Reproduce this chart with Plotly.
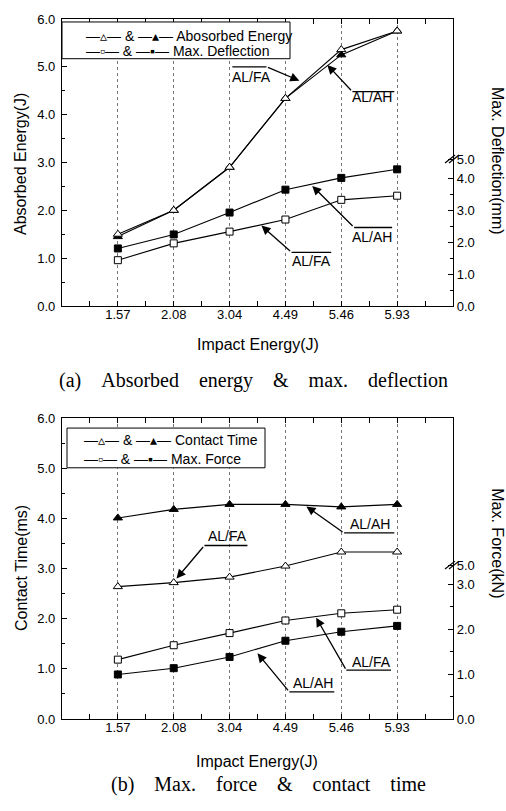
import plotly.graph_objects as go

# ---------------- data ----------------
impact = ["1.57", "2.08", "3.04", "4.49", "5.46", "5.93"]
abs_fa = [1.50, 2.00, 2.90, 4.34, 5.36, 5.75]
abs_ah = [1.45, 2.00, 2.90, 4.34, 5.25, 5.75]
defl_fa = [1.44, 1.97, 2.34, 2.72, 3.34, 3.47]
defl_ah = [1.81, 2.25, 2.94, 3.66, 4.03, 4.30]
ct_fa = [2.64, 2.72, 2.83, 3.05, 3.33, 3.33]
ct_ah = [4.01, 4.18, 4.28, 4.28, 4.23, 4.28]
force_fa = [1.32, 1.64, 1.91, 2.19, 2.35, 2.43]
force_ah = [0.99, 1.13, 1.38, 1.74, 1.94, 2.07]

left_ticks = [0, 1, 2, 3, 4, 5, 6]
defl_tickvals = [0, 1, 2, 3, 4, 4.62]
defl_ticktext = ["0.0", "1.0", "2.0", "3.0", "4.0", "5.0"]
force_tickvals = [0, 1, 2, 3, 3.42]
force_ticktext = ["0.0", "1.0", "2.0", "3.0", "5.0"]

idx = list(range(len(impact)))

W, H = 506, 811
ML, MR, MT, MB = 62, 53, 14, 92
PW, PH = W - ML - MR, H - MT - MB


def px(x):
    return (x - ML) / PW


def py(y):
    return (H - MB - y) / PH


FONT = "Liberation Sans, Arial, sans-serif"
SERIF = "Liberation Serif, Times New Roman, serif"

fig = go.Figure()


def add_series(x, y, xa, ya, symbol, fill):
    fig.add_trace(go.Scatter(
        x=x, y=y, xaxis=xa, yaxis=ya, mode="lines+markers",
        line=dict(color="black", width=1.1),
        marker=dict(symbol=symbol, size=8 if "triangle" in symbol else 7,
                    color=fill, line=dict(color="black", width=1)),
        showlegend=False, cliponaxis=False))


# top chart
add_series(idx, abs_ah, "x", "y", "triangle-up", "black")
add_series(idx, abs_fa, "x", "y", "triangle-up", "white")
add_series(idx, defl_ah, "x", "y2", "square", "black")
add_series(idx, defl_fa, "x", "y2", "square", "white")
# bottom chart
add_series(idx, ct_ah, "x2", "y3", "triangle-up", "black")
add_series(idx, ct_fa, "x2", "y3", "triangle-up", "white")
add_series(idx, force_fa, "x2", "y4", "square", "white")
add_series(idx, force_ah, "x2", "y4", "square", "black")

top_dom = [py(303), 1.0]
bot_dom = [0.0, py(416)]

xcommon = dict(
    range=[-1, 6], tickmode="array", tickvals=idx, ticktext=impact,
    ticks="inside", ticklen=5, tickcolor="black", showline=True,
    linecolor="black", linewidth=1.3, mirror="allticks",
    showgrid=True, gridcolor="#777", griddash="dot", gridwidth=1,
    zeroline=False, tickfont=dict(family=FONT, size=13, color="black"),
    ticklabelstandoff=-4,
    minor=dict(tickmode="array", tickvals=[i + 0.5 for i in range(-1, 6)],
               ticks="inside", ticklen=3, tickcolor="black", showgrid=False),
    fixedrange=True,
)
ycommon = dict(
    range=[0, 6], tickmode="array", tickvals=left_ticks, tickformat=".1f",
    ticks="inside", ticklen=5, tickcolor="black", showline=True,
    linecolor="black", linewidth=1.3, mirror=True, showgrid=False,
    zeroline=False, tickfont=dict(family=FONT, size=13, color="black"),
    ticklabelstandoff=3,
    minor=dict(dtick=0.5, ticks="inside", ticklen=3, tickcolor="black", showgrid=False),
)
rcommon = dict(
    side="right", tickmode="array", ticks="inside", ticklen=5,
    tickcolor="black", showline=True, linecolor="black", linewidth=1.3,
    showgrid=False, zeroline=False,
    tickfont=dict(family=FONT, size=13, color="black"),
)

fig.update_layout(
    width=W, height=H, margin=dict(l=ML, r=MR, t=MT, b=MB),
    paper_bgcolor="white", plot_bgcolor="white", showlegend=False,
    xaxis=dict(xcommon, anchor="y", domain=[0, 1]),
    xaxis2=dict(xcommon, anchor="y3", domain=[0, 1]),
    yaxis=dict(ycommon, anchor="x", domain=top_dom),
    yaxis2=dict(rcommon, anchor="x", overlaying="y", range=[0, (303 - 14) / 32.0],
                tickvals=defl_tickvals, ticktext=defl_ticktext,
                minor=dict(tickmode="array", tickvals=[0.5, 1.5, 2.5, 3.5],
                           ticks="inside", ticklen=3, tickcolor="black")),
    yaxis3=dict(ycommon, anchor="x2", domain=bot_dom),
    yaxis4=dict(rcommon, anchor="x2", overlaying="y3", range=[0, (719 - 416) / 45.3],
                tickvals=force_tickvals, ticktext=force_ticktext,
                minor=dict(tickmode="array", tickvals=[0.5, 1.5, 2.5],
                           ticks="inside", ticklen=3, tickcolor="black")),
)

ann = []
shapes = []


def txt(x, y, s, size=16, angle=0, family=FONT, xanchor="center"):
    ann.append(dict(x=x, y=y, xref="paper", yref="paper", text=s, showarrow=False,
                    textangle=angle, xanchor=xanchor, yanchor="middle",
                    font=dict(family=family, size=size, color="black")))


# axis titles
txt(px(21), py(160), "Absorbed Energy(J)", 16, -90)
txt(px(497), py(157), "Max. Deflection(mm)", 16, 90)
txt(px(258), py(342), "Impact Energy(J)", 16)
txt(px(21), py(567), "Contact Time(ms)", 16, -90)
txt(px(498), py(542), "Max. Force(kN)", 16, 90)
txt(px(257), py(762), "Impact Energy(J)", 16)

sp = "\u00a0\u00a0\u00a0\u00a0"
txt(px(253), py(378), sp.join(["(a)", "Absorbed", "energy", "&amp;", "max.", "deflection"]), 20, 0, SERIF)
txt(px(268), py(785), sp.join(["(b)", "Max.", "force", "&amp;", "contact", "time"]), 20, 0, SERIF)

# legend boxes
shapes.append(dict(type="rect", xref="paper", yref="paper", x0=px(62), x1=px(290),
                   y0=py(54), y1=py(17), line=dict(color="black", width=1),
                   fillcolor="white", layer="above"))
shapes.append(dict(type="rect", xref="paper", yref="paper", x0=px(67), x1=px(265),
                   y0=py(466), y1=py(426), line=dict(color="black", width=1),
                   fillcolor="white", layer="above"))
txt(px(84), py(31), "—▵— &amp; —▴— Abosorbed Energy", 14, 0, FONT, "left")
txt(px(84), py(46), "—▫— &amp; —▪— Max. Deflection", 14, 0, FONT, "left")
txt(px(82), py(438), "—▵— &amp; —▴— Contact Time", 14, 0, FONT, "left")
txt(px(82), py(457), "—▫— &amp; —▪— Max. Force", 14, 0, FONT, "left")


# axis breaks
def brk(cy):
    for d in (0, 4):
        shapes.append(dict(type="line", xref="paper", yref="paper",
                           x0=px(445 + d), y0=py(cy + 5), x1=px(455 + d), y1=py(cy - 3),
                           line=dict(color="black", width=1.2), layer="above"))


brk(154)
brk(563)


# callouts: arrow head (hx, hy), tail (tx, ty), bar from tx to bx at ty, text at (cx, cy)
def callout(xr, yr, hx, hy, tx, ty, bx, cx, cy, label):
    ann.append(dict(x=hx, y=hy, ax=tx, ay=ty, xref=xr, yref=yr, axref=xr, ayref=yr,
                    text="", showarrow=True, arrowhead=2, arrowsize=1.4,
                    arrowwidth=1.3, arrowcolor="black", standoff=0, startstandoff=0))
    shapes.append(dict(type="line", xref=xr, yref=yr, x0=tx, x1=bx, y0=ty, y1=ty,
                       line=dict(color="black", width=1.3)))
    ann.append(dict(x=cx, y=cy, xref=xr, yref=yr, text=label, showarrow=False,
                    font=dict(family=FONT, size=14, color="black")))


callout("x", "y", 3.25, 4.71, 2.66, 5.00, 2.05, 2.39, 4.79, "AL/FA")
callout("x", "y", 3.75, 5.04, 4.20, 4.48, 4.95, 4.55, 4.36, "AL/AH")
callout("x", "y", 3.48, 2.51, 4.23, 1.64, 4.91, 4.55, 1.45, "AL/AH")
callout("x", "y", 2.57, 1.68, 3.11, 1.12, 3.82, 3.46, 0.95, "AL/FA")

callout("x2", "y3", 3.375, 4.24, 4.05, 3.71, 4.95, 4.52, 3.88, "AL/AH")
callout("x2", "y3", 1.05, 2.80, 1.55, 3.46, 2.32, 1.96, 3.65, "AL/FA")
callout("x2", "y3", 3.55, 2.02, 4.09, 0.975, 4.89, 4.54, 1.13, "AL/FA")
callout("x2", "y3", 2.50, 1.31, 3.07, 0.54, 3.875, 3.50, 0.72, "AL/AH")

fig.update_layout(annotations=ann, shapes=shapes)
fig.write_html("out.html")
